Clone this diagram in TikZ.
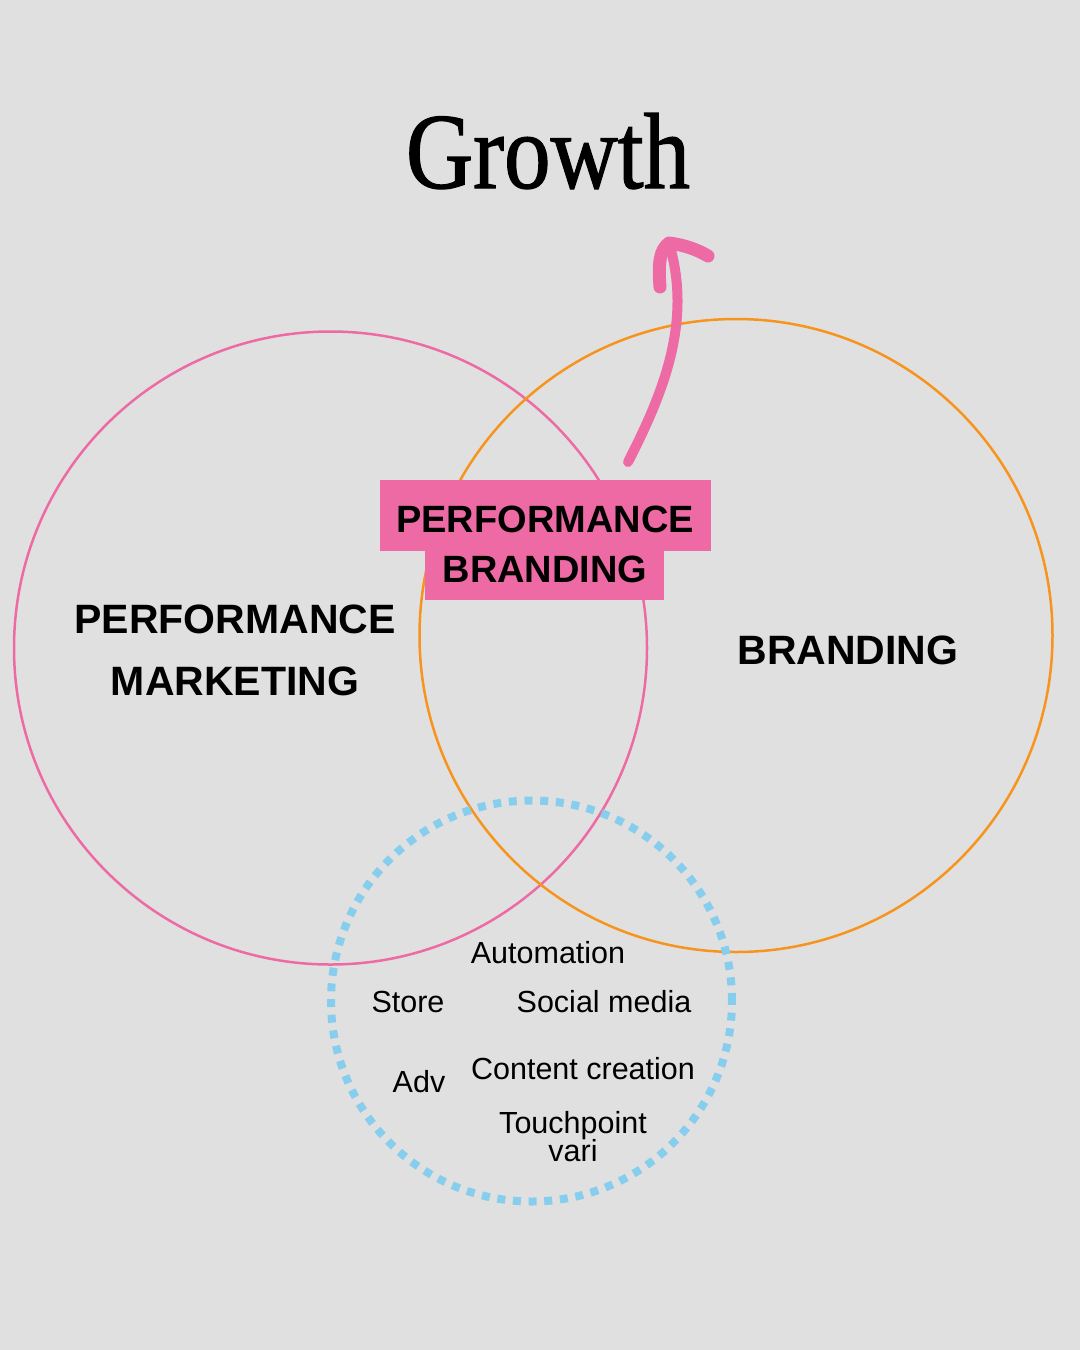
\documentclass[tikz,border=0pt]{standalone}
\usepackage{fontspec}
\setmainfont{Liberation Sans}
\newfontfamily\titlefont[FakeBold=1.2]{Liberation Serif}
\definecolor{bg}{HTML}{E0E0E0}
\definecolor{pinkc}{HTML}{EE6AA4}
\definecolor{orangec}{HTML}{F7941D}
\definecolor{bluec}{HTML}{87CEEE}
\tikzset{
  ring/.style={circle, draw, line width=2.5pt, minimum size=633pt, inner sep=0pt},
  bigl/.style={font=\fontsize{41}{62}\selectfont\bfseries, align=center, inner sep=0pt},
  boxl/.style={font=\fontsize{38}{50}\selectfont\bfseries, align=center, inner sep=0pt},
  item/.style={font=\fontsize{30.5}{30}\selectfont, align=center, inner sep=0pt},
  pinkbox/.style={fill=pinkc, inner sep=0pt},
}
\begin{document}
\begin{tikzpicture}[x=1pt,y=-1pt]
\fill[bg] (0,0) rectangle (1080,1350);
\useasboundingbox (0,0) rectangle (1080,1350);
% title
\node[font=\titlefont\fontsize{100}{100}\selectfont, xscale=0.93, yscale=1.08, inner sep=0pt, anchor=base] (title) at (548,188) {Growth};
% circles
\node[ring, draw=pinkc] (pm) at (330.5,648) {};
\node[ring, draw=orangec] (br) at (736,635.5) {};
\node[circle, draw=bluec, line width=8pt, dash pattern=on 8pt off 7.7pt, minimum size=401pt, inner sep=0pt] (tools) at (531.5,1001) {};
% arrow
\coordinate (as) at (628,462);
\coordinate (at) at (669,243);
\coordinate (al) at (660,287);
\coordinate (ar) at (708,256);
\draw[pinkc, line width=10pt, line cap=round] (as) .. controls (665,390) and (692,320) .. (at);
\draw[pinkc, line width=13pt, line cap=round, line join=round] (al) .. controls (658,262) and (660,250) .. (at) .. controls (685,245) and (698,250) .. (ar);
% box
\node[pinkbox, minimum width=331pt, minimum height=71pt] (boxtop) at (545,515) {};
\node[pinkbox, minimum width=239pt, minimum height=52pt] (boxbot) at (544.5,574) {};
\node[boxl, anchor=base] (pb1) at (545,532) {PERFORMANCE};
\node[boxl, anchor=base] (pb2) at (545,582) {BRANDING};
% labels
\node[bigl, anchor=base] (pm1) at (235,633) {PERFORMANCE};
\node[bigl, anchor=base] (pm2) at (235,695) {MARKETING};
\node[bigl, anchor=base] (brl) at (848,664) {BRANDING};
% items
\node[item, anchor=base] (i1) at (548,963) {Automation};
\node[item, anchor=base] (i2) at (408,1012) {Store};
\node[item, anchor=base] (i3) at (604,1012) {Social media};
\node[item, anchor=base] (i4) at (419,1092) {Adv};
\node[item, anchor=base] (i5) at (583,1079) {Content creation};
\node[item, anchor=base] (i6) at (573,1133) {Touchpoint};
\node[item, anchor=base] (i7) at (573,1161) {vari};
\end{tikzpicture}
\end{document}
